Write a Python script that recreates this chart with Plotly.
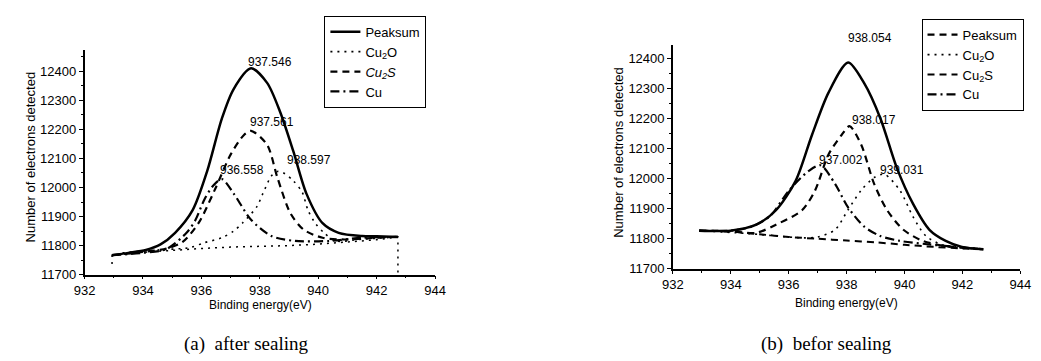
import plotly.graph_objects as go

# ---------------- (a) after sealing ----------------
a_peak_x = [932.94, 933.5, 934.1, 934.6, 935.1, 935.7, 936.2, 936.7, 937.1, 937.7, 938.25, 938.7, 939.15, 939.6, 940.15, 940.7, 941.5, 942.0, 942.73]
a_peak_y = [11767, 11775, 11785, 11804, 11844, 11922, 12057, 12237, 12338, 12410, 12360, 12259, 12124, 11978, 11877, 11844, 11833, 11832, 11830]

a_cu2s_x = [932.94, 934.0, 934.8, 935.35, 935.9, 936.45, 937.0, 937.45, 937.7, 938.25, 938.6, 939.05, 939.5, 940.15, 940.9, 941.8, 942.73]
a_cu2s_y = [11767, 11778, 11790, 11812, 11877, 11990, 12113, 12180, 12195, 12147, 12035, 11911, 11855, 11827, 11821, 11826, 11830]

a_cu_x = [932.94, 934.0, 934.8, 935.5, 935.8, 936.1, 936.4, 936.7, 937.1, 937.7, 938.4, 939.2, 940.4, 941.5, 942.73]
a_cu_y = [11767, 11775, 11788, 11845, 11889, 11958, 12006, 12029, 11980, 11889, 11833, 11816, 11816, 11827, 11830]

a_cu2o_x = [933.3, 934.5, 935.6, 936.1, 936.7, 937.1, 937.4, 937.9, 938.1, 938.4, 938.6, 938.8, 939.15, 939.45, 939.65, 939.9, 940.2, 940.6, 941.5, 942.73]
a_cu2o_y = [11775, 11785, 11793, 11810, 11827, 11850, 11877, 11934, 11978, 12040, 12055, 12051, 12023, 11984, 11922, 11877, 11844, 11816, 11822, 11830]

a_bg_x = [932.94, 932.94, 934.0, 935.0, 936.0, 937.0, 938.0, 939.0, 940.0, 941.0, 942.0, 942.73, 942.73]
a_bg_y = [11737, 11767, 11777, 11784, 11790, 11795, 11797, 11800, 11805, 11812, 11820, 11830, 11700]

a_labels = ["937.546", "937.561", "936.558", "938.597"]
a_label_x = [937.53, 937.58, 936.57, 938.87]
a_label_y = [12433, 12225, 12060, 12094]

# ---------------- (b) befor sealing ----------------
b_peak_x = [932.91, 933.98, 934.88, 935.56, 936.24, 936.8, 937.37, 938.05, 938.6, 939.17, 939.73, 940.29, 940.86, 941.42, 941.98, 942.72]
b_peak_y = [11827, 11827, 11847, 11895, 11993, 12145, 12286, 12387, 12319, 12200, 12037, 11917, 11830, 11793, 11773, 11765]

b_cu2s_x = [932.91, 934.0, 934.88, 935.56, 936.46, 936.91, 937.37, 937.82, 938.1, 938.5, 938.95, 939.4, 939.96, 940.63, 941.42, 942.72]
b_cu2s_y = [11827, 11825, 11820, 11847, 11895, 11961, 12080, 12145, 12175, 12114, 11983, 11895, 11830, 11793, 11776, 11765]

b_cu_x = [932.91, 934.0, 934.7, 935.34, 936.01, 936.69, 937.1, 937.6, 938.04, 938.6, 939.17, 939.84, 940.86, 942.72]
b_cu_y = [11827, 11827, 11840, 11874, 11961, 12026, 12045, 11983, 11906, 11841, 11809, 11793, 11781, 11765]

b_cu2o_x = [932.91, 934.5, 935.5, 936.5, 937.0, 937.6, 938.04, 938.5, 938.95, 939.3, 939.84, 940.29, 940.74, 941.42, 942.72]
b_cu2o_y = [11827, 11818, 11810, 11803, 11806, 11830, 11895, 11961, 12004, 12015, 11961, 11874, 11809, 11776, 11765]

b_bg_x = [932.91, 934.0, 935.0, 936.0, 937.0, 938.0, 939.0, 940.0, 941.0, 942.0, 942.72]
b_bg_y = [11827, 11824, 11815, 11806, 11800, 11794, 11788, 11780, 11773, 11768, 11765]

b_labels = ["938.054", "938.017", "937.002", "939.031"]
b_label_x = [937.98, 938.13, 936.97, 939.09]
b_label_y = [12440, 12197, 12061, 12029]

x_ticks = [932, 934, 936, 938, 940, 942, 944]
y_ticks = [11700, 11800, 11900, 12000, 12100, 12200, 12300, 12400]

W, H = 1041, 361
BLACK = "black"
SANS = "Arial, Liberation Sans, sans-serif"
SERIF = "Times New Roman, Liberation Serif, serif"

DASH = "7px,5px"
DOT = "2px,5px"
DASHDOT = "9px,4px,2px,4px"

fig = go.Figure()


def add(x, y, name, dash, width, xa, ya, legend, group, show=True, shape="spline"):
    line = dict(color=BLACK, width=width, dash=dash, shape=shape)
    if shape == "spline":
        line["smoothing"] = 0.8
    fig.add_trace(go.Scatter(
        x=x, y=y, name=name, mode="lines", line=line,
        xaxis=xa, yaxis=ya, legend=legend, legendgroup=group, showlegend=show,
        hoverinfo="skip"))


# (a)
add(a_bg_x, a_bg_y, "bg", DOT, 1.5, "x", "y", "legend", "abg", show=False, shape="linear")
add(a_peak_x, a_peak_y, "Peaksum", "solid", 2.5, "x", "y", "legend", "a1")
add(a_cu2o_x, a_cu2o_y, "Cu<sub>2</sub>O", DOT, 1.6, "x", "y", "legend", "a2")
add(a_cu2s_x, a_cu2s_y, "<i>Cu<sub>2</sub>S</i>", DASH, 2.2, "x", "y", "legend", "a3")
add(a_cu_x, a_cu_y, "Cu", DASHDOT, 2.2, "x", "y", "legend", "a4")

# (b)
add(b_bg_x, b_bg_y, "bg", DASH, 2.0, "x2", "y2", "legend2", "bbg", show=False)
add(b_peak_x, b_peak_y, "Peaksum", "solid", 2.5, "x2", "y2", "legend2", "b1", show=False)
add([None], [None], "Peaksum", DASH, 2.2, "x2", "y2", "legend2", "b1l")
add(b_cu2o_x, b_cu2o_y, "Cu<sub>2</sub>O", DOT, 1.6, "x2", "y2", "legend2", "b2")
add(b_cu2s_x, b_cu2s_y, "Cu<sub>2</sub>S", DASH, 2.2, "x2", "y2", "legend2", "b3")
add(b_cu_x, b_cu_y, "Cu", DASHDOT, 2.2, "x2", "y2", "legend2", "b4")


def px_x(p):
    return p / W


def px_y(p):
    return 1 - p / H


axis_common = dict(
    showline=True, linecolor=BLACK, linewidth=1.5, showgrid=False, zeroline=False,
    ticks="outside", tickwidth=1, tickcolor=BLACK,
    tickfont=dict(family=SANS, size=13, color=BLACK),
    mirror=False,
)

fig.update_layout(
    width=W, height=H,
    margin=dict(l=0, r=0, t=0, b=0),
    paper_bgcolor="white", plot_bgcolor="white",
    xaxis=dict(domain=[px_x(67), px_x(425)], range=[932, 944], tickvals=x_ticks, tickformat="d", ticklen=3,
               minor=dict(dtick=1, ticklen=2, ticks="outside", tickcolor=BLACK),
               anchor="y", **axis_common),
    yaxis=dict(domain=[px_y(272.7), px_y(42.7)], range=[11700, 12474], tickvals=y_ticks, tickformat="d", ticklen=4,
               minor=dict(dtick=50, ticklen=2, ticks="outside", tickcolor=BLACK),
               anchor="x", **axis_common),
    xaxis2=dict(domain=[px_x(668), px_x(1023)], range=[932, 944], tickvals=x_ticks, tickformat="d", ticklen=3,
                minor=dict(dtick=1, ticklen=2, ticks="outside", tickcolor=BLACK),
                anchor="y2", **axis_common),
    yaxis2=dict(domain=[px_y(266.7), px_y(38.3)], range=[11700, 12444], tickvals=y_ticks, tickformat="d", ticklen=4,
                minor=dict(dtick=50, ticklen=2, ticks="outside", tickcolor=BLACK),
                anchor="x2", **axis_common),
    legend=dict(x=px_x(312), y=px_y(8), xanchor="left", yanchor="top",
                bordercolor=BLACK, borderwidth=1, bgcolor="white",
                font=dict(family=SANS, size=13, color=BLACK),
                itemwidth=30, tracegroupgap=4, traceorder="normal"),
    legend2=dict(x=px_x(922), y=px_y(11), xanchor="left", yanchor="top",
                 bordercolor=BLACK, borderwidth=1, bgcolor="white",
                 font=dict(family=SANS, size=13, color=BLACK),
                 itemwidth=30, tracegroupgap=4, traceorder="normal"),
    showlegend=True,
)

ann = []
for t, x, y in zip(a_labels, a_label_x, a_label_y):
    ann.append(dict(text=t, x=x, y=y, xref="x", yref="y", xanchor="left", yanchor="middle",
                    showarrow=False, font=dict(family=SANS, size=12, color=BLACK)))
for i, (t, x, y) in enumerate(zip(b_labels, b_label_x, b_label_y)):
    # first label sits above the axis top, so anchor it to the bottom of its text
    ann.append(dict(text=t, x=x, y=y, xref="x2", yref="y2", xanchor="left",
                    yanchor="bottom" if i == 0 else "middle",
                    showarrow=False, font=dict(family=SANS, size=12, color=BLACK)))

# axis titles
ann.append(dict(text="Number of electrons detected", x=px_x(12), y=px_y(152), xref="paper", yref="paper",
                textangle=-90, showarrow=False, xanchor="center", yanchor="middle",
                font=dict(family=SANS, size=13, color=BLACK)))
ann.append(dict(text="Number of electrons detected", x=px_x(613), y=px_y(148), xref="paper", yref="paper",
                textangle=-90, showarrow=False, xanchor="center", yanchor="middle",
                font=dict(family=SANS, size=13, color=BLACK)))
ann.append(dict(text="Binding energy(eV)", x=px_x(247), y=px_y(304), xref="paper", yref="paper",
                showarrow=False, xanchor="center", yanchor="middle",
                font=dict(family=SANS, size=12, color=BLACK)))
ann.append(dict(text="Binding energy(eV)", x=px_x(845), y=px_y(302), xref="paper", yref="paper",
                showarrow=False, xanchor="center", yanchor="middle",
                font=dict(family=SANS, size=12, color=BLACK)))
# captions
ann.append(dict(text="(a)\u00a0\u00a0after sealing", x=px_x(232), y=px_y(344), xref="paper", yref="paper",
                showarrow=False, xanchor="center", yanchor="middle",
                font=dict(family=SERIF, size=19, color=BLACK)))
ann.append(dict(text="(b)\u00a0\u00a0befor sealing", x=px_x(825), y=px_y(344), xref="paper", yref="paper",
                showarrow=False, xanchor="center", yanchor="middle",
                font=dict(family=SERIF, size=19, color=BLACK)))

fig.update_layout(annotations=ann)

fig.write_html("out.html")
